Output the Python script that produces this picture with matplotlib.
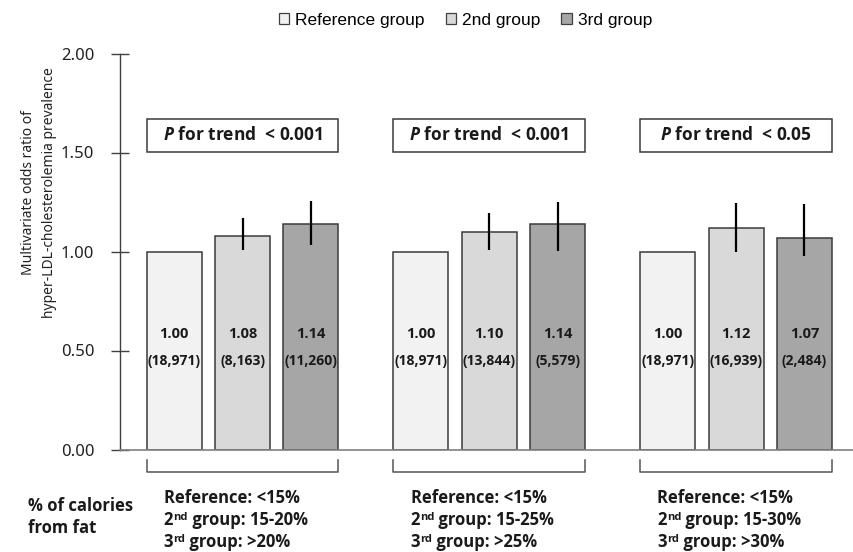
import matplotlib
matplotlib.use("Agg")
import matplotlib.pyplot as plt
import matplotlib.transforms as mtransforms
from matplotlib.patches import Patch, Rectangle
from matplotlib.ticker import FormatStrFormatter
import numpy as np

BOLD_FONT = "Open Sans"

plt.rcParams['mathtext.fontset'] = 'custom'
plt.rcParams['mathtext.rm'] = BOLD_FONT
plt.rcParams['mathtext.it'] = BOLD_FONT + ':italic:bold'
plt.rcParams['mathtext.bf'] = BOLD_FONT + ':bold'

# ---- data ----
series_names = ["Reference group", "2nd group", "3rd group"]
series_colors = ["#f2f2f2", "#d9d9d9", "#a6a6a6"]

odds_ratio = [
    [1.00, 1.08, 1.14],
    [1.00, 1.10, 1.14],
    [1.00, 1.12, 1.07],
]
ci_low = [
    [np.nan, 1.01, 1.035],
    [np.nan, 1.01, 1.005],
    [np.nan, 1.00, 0.977],
]
ci_high = [
    [np.nan, 1.17, 1.255],
    [np.nan, 1.195, 1.248],
    [np.nan, 1.245, 1.238],
]
sample_sizes = [
    ["18,971", "8,163", "11,260"],
    ["18,971", "13,844", "5,579"],
    ["18,971", "16,939", "2,484"],
]
p_trend = ["< 0.001", "< 0.001", "< 0.05"]
ref_range = ["<15%", "<15%", "<15%"]
second_range = ["15-20%", "15-25%", "15-30%"]
third_range = [">20%", ">25%", ">30%"]
yticks = [0.0, 0.5, 1.0, 1.5, 2.0]

# ---- layout ----
W, H = 854, 552
fig = plt.figure(figsize=(W / 100, H / 100), dpi=100)
ax = fig.add_axes([120 / W, (H - 449.5) / H, (W - 120) / W, (449.5 - 53.5) / H])
renderer = fig.canvas.get_renderer()

group_gap = 3.613
bar_width = 0.805
edge = "#3a3a3a"
bold = dict(fontweight="bold", family=BOLD_FONT, color="#1a1a1a")


def text_run(x, y, pieces):
    """Draw consecutive text pieces (string, size, rise in px) on one baseline."""
    dx = 0.0
    for s, size, rise in pieces:
        tr = mtransforms.offset_copy(ax.transData, fig=fig, x=dx, y=rise, units="dots")
        t = ax.text(x, y, s, transform=tr, ha="left", va="baseline",
                    fontsize=size, clip_on=False, **bold)
        dx += t.get_window_extent(renderer).width


for g in range(3):
    base = g * group_gap
    xs = base + np.arange(3)
    ax.bar(xs, odds_ratio[g], width=bar_width, color=series_colors,
           edgecolor=edge, linewidth=1.1, zorder=2)
    ax.vlines(xs, ci_low[g], ci_high[g], color="black", linewidth=1.6, zorder=3)
    for k in range(3):
        ax.text(xs[k], 0.583, f"{odds_ratio[g][k]:.2f}", ha="center", va="center",
                fontsize=10.5, **bold)
        ax.text(xs[k], 0.447, f"({sample_sizes[g][k]})", ha="center", va="center",
                fontsize=10, **bold)
    left = xs[0] - bar_width / 2
    right = xs[2] + bar_width / 2
    # P for trend box
    ax.add_patch(Rectangle((left, 1.5025), right - left, 0.1665, facecolor="white",
                           edgecolor=edge, linewidth=1.1, clip_on=False, zorder=2))
    ax.text(base + 1, 1.586, f"$P$ for trend  {p_trend[g]}", ha="center", va="center",
            fontsize=12.5, **bold)
    # bracket under each group
    ax.plot([left, left, right, right], [-0.053, -0.112, -0.112, -0.053],
            color="#555555", linewidth=1.1, clip_on=False)
    # category ranges
    tx = left + 0.25
    text_run(tx, -0.270, [(f"Reference: {ref_range[g]}", 12, 0)])
    text_run(tx, -0.381, [("2", 12, 0), ("nd", 8, 5), (" group: " + second_range[g], 12, 0)])
    text_run(tx, -0.490, [("3", 12, 0), ("rd", 8, 5), (" group: " + third_range[g], 12, 0)])

ax.set_xlim(-0.794, 9.953)
ax.set_ylim(0, 2.0)
ax.set_yticks(yticks)
ax.yaxis.set_major_formatter(FormatStrFormatter("%.2f"))
ax.tick_params(axis="y", direction="inout", length=13, width=1, color="#404040",
               pad=12, labelsize=12, labelcolor="#222222")
for lab in ax.get_yticklabels():
    lab.set_family("Noto Sans")
ax.set_xticks([])
ax.spines["top"].set_visible(False)
ax.spines["right"].set_visible(False)
ax.spines["left"].set_color("#404040")
ax.spines["left"].set_linewidth(1.0)
ax.spines["bottom"].set_color("#808080")
ax.spines["bottom"].set_linewidth(1.2)

fig.text(39 / W, 1 - 193 / H,
         "Multivariate odds ratio of\nhyper-LDL-cholesterolemia prevalence",
         rotation=90, ha="center", va="center", fontsize=10, family="Noto Sans",
         color="#222222", linespacing=1.5)

fig.text(28 / W, 1 - 505.7 / H, "% of calories", ha="left", va="center",
         fontsize=12, **bold)
fig.text(28 / W, 1 - 528 / H, "from fat", ha="left", va="center",
         fontsize=12, **bold)

handles = [Patch(facecolor=c, edgecolor="#404040", linewidth=0.9) for c in series_colors]
fig.legend(handles, series_names, loc="center", bbox_to_anchor=(0.545, 1 - 20 / H),
           ncol=3, frameon=False, handlelength=0.6, handleheight=0.6,
           handletextpad=0.35, columnspacing=1.2,
           prop={"family": "Liberation Sans", "size": 12.5})

fig.savefig("out.png", dpi=100)
